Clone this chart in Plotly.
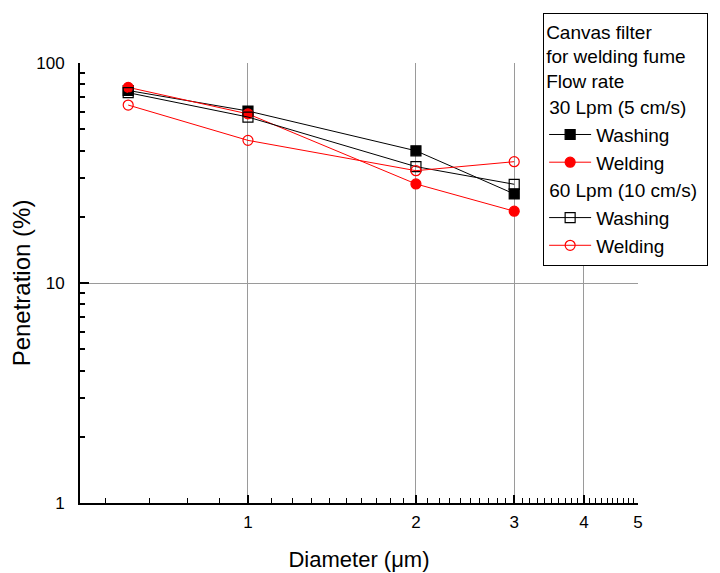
import numpy as np
import plotly.graph_objects as go

# Particle diameter (um) and penetration (%)
diameter = [0.61, 1.0, 2.0, 3.0]
washing_30 = [75.0, 60.5, 39.9, 25.4]
welding_30 = [77.5, 58.7, 28.2, 21.2]
washing_60 = [73.3, 56.8, 33.8, 28.1]
welding_60 = [64.4, 44.5, 32.4, 35.6]

x_ticks = [1, 2, 3, 4, 5]
x_grid = [1, 2, 3, 4]
x_minor = [0.556, 0.667, 0.778, 0.889,
           1.1, 1.2, 1.3, 1.4, 1.5, 1.6, 1.7, 1.8, 1.9,
           2.1, 2.2, 2.3, 2.4, 2.5, 2.6, 2.7, 2.8, 2.9,
           3.1, 3.2, 3.3, 3.4, 3.5, 3.6, 3.7, 3.8, 3.9,
           4.1, 4.2, 4.3, 4.4, 4.5, 4.6, 4.7, 4.8, 4.9]
y_ticks = [1, 10, 100]
y_grid = [10]
y_minor = [2, 3, 4, 5, 6, 7, 8, 9, 20, 30, 40, 50, 60, 70, 80, 90]

FONT = "Liberation Sans, Arial, sans-serif"
LEG = 19

fig = go.Figure()

# empty trace so the overlay axes (used only for the partial grid) get drawn
fig.add_trace(go.Scatter(x=[], y=[], xaxis="x2", yaxis="y2", showlegend=False, hoverinfo="skip"))

series = [
    (washing_30, "Washing", "black", "square", "30", "30 Lpm (5 cm/s)"),
    (welding_30, "Welding", "red", "circle", "30", "30 Lpm (5 cm/s)"),
    (washing_60, "Washing", "black", "square-open", "60", "60 Lpm (10 cm/s)"),
    (welding_60, "Welding", "red", "circle-open", "60", "60 Lpm (10 cm/s)"),
]
for vals, name, color, symbol, grp, grp_title in series:
    fig.add_trace(go.Scatter(
        x=diameter, y=vals, name=name, mode="lines+markers",
        line=dict(color=color, width=1),
        marker=dict(symbol=symbol, size=10, color=color, line=dict(color=color, width=1.2)),
        legendgroup=grp, legendgrouptitle=dict(text=grp_title, font=dict(size=LEG, color="black")),
    ))

xr = [np.log10(0.5), np.log10(5)]
yr = [0, 2]

fig.update_layout(
    width=720, height=573,
    margin=dict(l=72, r=90, t=55, b=78, autoexpand=False),
    paper_bgcolor="white", plot_bgcolor="white",
    font=dict(family=FONT, color="black"),
    showlegend=True,
    legend=dict(
        x=0.83, y=1.114, xanchor="left", yanchor="top",
        bgcolor="white", bordercolor="black", borderwidth=1,
        font=dict(size=LEG, color="black"),
        title=dict(text="Canvas filter<br>for welding fume<br>Flow rate", font=dict(size=LEG)),
        tracegroupgap=0, itemwidth=42,
    ),
    xaxis=dict(
        type="log", range=xr, tickvals=x_ticks, ticktext=[str(v) for v in x_ticks],
        ticks="inside", ticklen=8, tickwidth=1.5, tickcolor="black",
        showline=True, linecolor="black", linewidth=2, showgrid=False, zeroline=False,
        minor=dict(tickvals=x_minor, ticks="inside", ticklen=5, tickwidth=1.2,
                   tickcolor="black", showgrid=False),
        tickfont=dict(size=17), ticklabelstandoff=3,
        title=dict(text="Diameter (\u03bcm)", font=dict(size=22), standoff=20),
    ),
    yaxis=dict(
        type="log", range=yr, tickvals=y_ticks, ticktext=[str(v) for v in y_ticks],
        ticks="inside", ticklen=9, tickwidth=2, tickcolor="black",
        showline=True, linecolor="black", linewidth=2, showgrid=False, zeroline=False,
        minor=dict(tickvals=y_minor, ticks="inside", ticklen=5, tickwidth=1.5,
                   tickcolor="black", showgrid=False),
        tickfont=dict(size=17), ticklabelstandoff=10,
        title=dict(text="Penetration (%)", font=dict(size=24), standoff=2),
    ),
    xaxis2=dict(
        type="log", range=xr, overlaying="x", anchor="y2", tickvals=x_grid,
        showgrid=True, gridcolor="#9a9a9a", gridwidth=1,
        showticklabels=False, ticks="", showline=False, zeroline=False,
    ),
    yaxis2=dict(
        type="log", range=yr, overlaying="y", anchor="x2", tickvals=y_grid,
        showgrid=True, gridcolor="#9a9a9a", gridwidth=1,
        showticklabels=False, ticks="", showline=False, zeroline=False,
    ),
)

fig.write_html("out.html")
